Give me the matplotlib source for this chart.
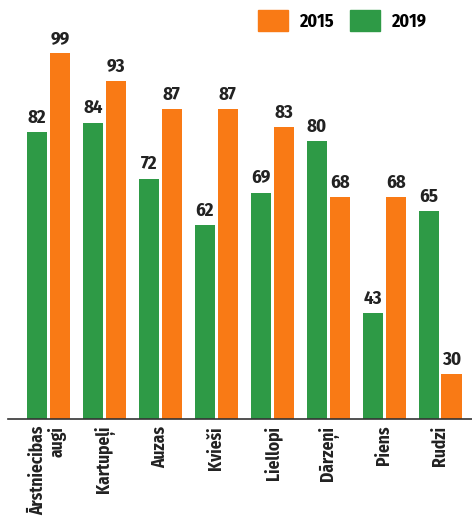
import matplotlib
matplotlib.use("Agg")
import matplotlib.pyplot as plt
from matplotlib.patches import Patch
import numpy as np

categories = ['Ārstniecibas\naugi', 'Kartupeļi', 'Auzas', 'Kvieši',
              'Liellopi', 'Dārzeņi', 'Piens', 'Rudzi']
values_2019 = [82, 84, 72, 62, 69, 80, 43, 65]
values_2015 = [99, 93, 87, 87, 83, 68, 68, 30]

GREEN = '#2E9A46'
ORANGE = '#F97A15'
FONT = ['Fira Sans Condensed', 'DejaVu Sans']

plt.rcParams['font.family'] = FONT

fig = plt.figure(figsize=(4.72, 5.17), dpi=100)
ax = fig.add_axes([8 / 472, 98 / 517, 464 / 472, 419 / 517])

x = np.arange(len(categories))
w = 0.36
gap = 0.025
b1 = ax.bar(x - w / 2 - gap, values_2019, w, color=GREEN)
b2 = ax.bar(x + w / 2 + gap, values_2015, w, color=ORANGE)

for bars, vals in ((b1, values_2019), (b2, values_2015)):
    for bar, v in zip(bars, vals):
        ax.text(bar.get_x() + bar.get_width() / 2, v + 1.2, str(v),
                ha='center', va='bottom', fontsize=13.5, fontweight='bold',
                color='#222222')

ax.set_ylim(20.3, 110.4)
ax.set_xlim(-0.72, 7.57)
ax.set_yticks([])
ax.set_xticks(x)
ax.set_xticklabels(categories, rotation=90, fontsize=12.5, fontweight='bold',
                   color='#222222', ha='center', va='top', multialignment='right',
                   linespacing=1.05)
ax.tick_params(axis='x', length=0, pad=5)
for s in ('top', 'right', 'left'):
    ax.spines[s].set_visible(False)
ax.spines['bottom'].set_color('#333333')
ax.spines['bottom'].set_linewidth(1.2)

handles = [Patch(color=ORANGE, label='2015'), Patch(color=GREEN, label='2019')]
ax.legend(handles=handles, loc='upper left',
          bbox_to_anchor=((258 - 8) / 464, 1 - 10 / 419),
          ncol=2, frameon=False, borderpad=0, borderaxespad=0,
          handlelength=1.67, handleheight=1.45,
          columnspacing=0.9, handletextpad=0.6,
          prop={'family': FONT, 'weight': 'bold', 'size': 13})

fig.savefig('out.png', dpi=100)
